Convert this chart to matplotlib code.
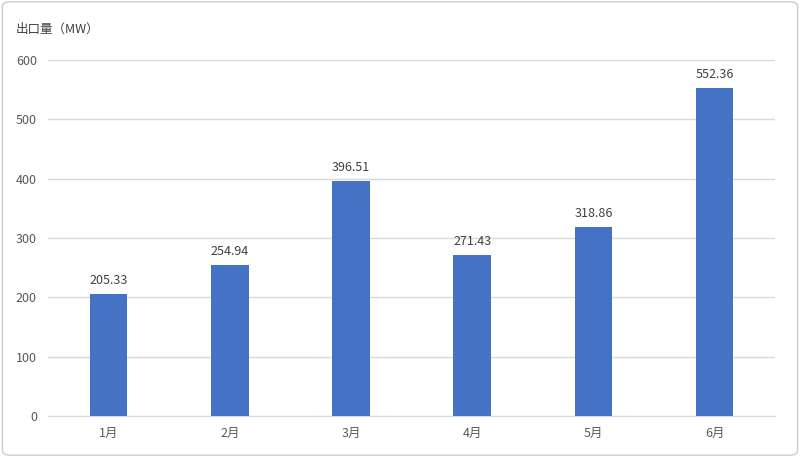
import matplotlib
matplotlib.use("Agg")
import matplotlib.pyplot as plt
from matplotlib.patches import FancyBboxPatch

plt.rcParams["font.family"] = ["Noto Sans CJK SC"]

months = ["1月", "2月", "3月", "4月", "5月", "6月"]
values = [205.33, 254.94, 396.51, 271.43, 318.86, 552.36]
yticks = [0, 100, 200, 300, 400, 500, 600]

fig = plt.figure(figsize=(8, 4.57), dpi=100)
fig.patches.append(FancyBboxPatch((0.003, 0.004), 0.994, 0.992, boxstyle="round,pad=0,rounding_size=0.01",
                                  transform=fig.transFigure, fill=False, edgecolor="#cccccc", lw=1))
ax = fig.add_axes([0.06, 0.0897, 0.909, 0.779])
x = range(len(months))
bars = ax.bar(x, values, width=0.31, color="#4472C4", zorder=3)
for xi, v in zip(x, values):
    ax.text(xi, v + 12, f"{v:.2f}", ha="center", va="bottom", fontsize=9, color="#404040")
ax.set_xlim(-0.5, 5.5)
ax.set_ylim(0, 600)
ax.set_yticks(yticks)
ax.set_xticks(list(x))
ax.set_xticklabels(months)
ax.grid(axis="y", color="#d9d9d9", lw=1, zorder=0)
for s in ["top", "right", "left"]:
    ax.spines[s].set_visible(False)
ax.spines["bottom"].set_color("#d9d9d9")
ax.tick_params(length=0, labelsize=9, colors="#595959", pad=8)
fig.text(0.019, 0.935, "出口量（MW）", fontsize=9, color="#404040", va="center")
fig.savefig("out.png", dpi=100)
